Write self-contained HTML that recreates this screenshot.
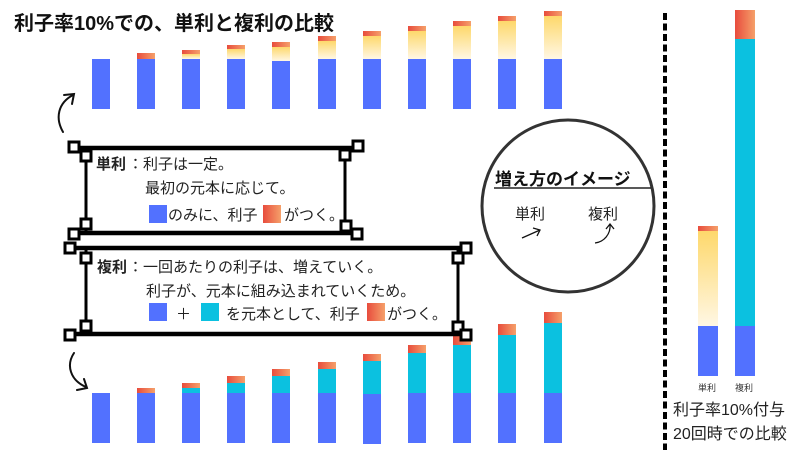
<!DOCTYPE html>
<html><head><meta charset="utf-8"><style>
html,body{margin:0;padding:0;background:#fff;}
svg{display:block;font-family:"Liberation Sans","Noto Sans CJK JP",sans-serif;}
</style></head><body>
<svg width="800" height="450" viewBox="0 0 800 450" xmlns="http://www.w3.org/2000/svg">
<defs>
<linearGradient id="rd" x1="0" y1="0" x2="1" y2="0"><stop offset="0" stop-color="#e84c3d"/><stop offset="1" stop-color="#f5a06a"/></linearGradient>
<linearGradient id="yl" x1="0" y1="0" x2="0" y2="1"><stop offset="0" stop-color="#fed86b"/><stop offset="1" stop-color="#fff7e4"/></linearGradient>
</defs>
<text x="14" y="30" font-size="20" font-weight="bold" fill="#111">利子率10%での、単利と複利の比較</text>

<!-- top bars -->
<g>
<rect x="92" y="59" width="18" height="50" fill="#5271ff"/>
<rect x="137" y="59" width="18" height="50" fill="#5271ff"/><rect x="137" y="53" width="18" height="6" fill="url(#rd)"/>
<rect x="182" y="59" width="18" height="50" fill="#5271ff"/><rect x="182" y="54" width="18" height="5" fill="url(#yl)"/><rect x="182" y="50" width="18" height="4" fill="url(#rd)"/>
<rect x="227" y="59" width="18" height="50" fill="#5271ff"/><rect x="227" y="49" width="18" height="10" fill="url(#yl)"/><rect x="227" y="45" width="18" height="4" fill="url(#rd)"/>
<rect x="272" y="61" width="18" height="48" fill="#5271ff"/><rect x="272" y="47" width="18" height="14" fill="url(#yl)"/><rect x="272" y="42" width="18" height="5" fill="url(#rd)"/>
<rect x="318" y="59" width="18" height="50" fill="#5271ff"/><rect x="318" y="41" width="18" height="18" fill="url(#yl)"/><rect x="318" y="36" width="18" height="5" fill="url(#rd)"/>
<rect x="363" y="59" width="18" height="50" fill="#5271ff"/><rect x="363" y="36" width="18" height="23" fill="url(#yl)"/><rect x="363" y="31" width="18" height="5" fill="url(#rd)"/>
<rect x="408" y="59" width="18" height="50" fill="#5271ff"/><rect x="408" y="31" width="18" height="28" fill="url(#yl)"/><rect x="408" y="26" width="18" height="5" fill="url(#rd)"/>
<rect x="453" y="59" width="18" height="50" fill="#5271ff"/><rect x="453" y="26" width="18" height="33" fill="url(#yl)"/><rect x="453" y="21" width="18" height="5" fill="url(#rd)"/>
<rect x="498" y="59" width="18" height="50" fill="#5271ff"/><rect x="498" y="21" width="18" height="38" fill="url(#yl)"/><rect x="498" y="16" width="18" height="5" fill="url(#rd)"/>
<rect x="544" y="59" width="18" height="50" fill="#5271ff"/><rect x="544" y="16" width="18" height="43" fill="url(#yl)"/><rect x="544" y="11" width="18" height="5" fill="url(#rd)"/>
</g>

<!-- bottom bars -->
<g>
<rect x="92" y="393" width="18" height="50" fill="#5271ff"/>
<rect x="137" y="393" width="18" height="50" fill="#5271ff"/><rect x="137" y="388" width="18" height="5" fill="url(#rd)"/>
<rect x="182" y="393" width="18" height="50" fill="#5271ff"/><rect x="182" y="388" width="18" height="5" fill="#0bc1e0"/><rect x="182" y="383" width="18" height="5" fill="url(#rd)"/>
<rect x="227" y="393" width="18" height="50" fill="#5271ff"/><rect x="227" y="383" width="18" height="10" fill="#0bc1e0"/><rect x="227" y="376" width="18" height="7" fill="url(#rd)"/>
<rect x="272" y="393" width="18" height="50" fill="#5271ff"/><rect x="272" y="376" width="18" height="17" fill="#0bc1e0"/><rect x="272" y="369" width="18" height="7" fill="url(#rd)"/>
<rect x="318" y="393" width="18" height="50" fill="#5271ff"/><rect x="318" y="369" width="18" height="24" fill="#0bc1e0"/><rect x="318" y="362" width="18" height="7" fill="url(#rd)"/>
<rect x="363" y="394" width="18" height="50" fill="#5271ff"/><rect x="363" y="361" width="18" height="33" fill="#0bc1e0"/><rect x="363" y="354" width="18" height="7" fill="url(#rd)"/>
<rect x="408" y="393" width="18" height="50" fill="#5271ff"/><rect x="408" y="353" width="18" height="40" fill="#0bc1e0"/><rect x="408" y="345" width="18" height="8" fill="url(#rd)"/>
<rect x="453" y="393" width="18" height="50" fill="#5271ff"/><rect x="453" y="345" width="18" height="48" fill="#0bc1e0"/><rect x="453" y="335" width="18" height="10" fill="url(#rd)"/>
<rect x="498" y="393" width="18" height="50" fill="#5271ff"/><rect x="498" y="335" width="18" height="58" fill="#0bc1e0"/><rect x="498" y="324" width="18" height="11" fill="url(#rd)"/>
<rect x="544" y="393" width="18" height="50" fill="#5271ff"/><rect x="544" y="323" width="18" height="70" fill="#0bc1e0"/><rect x="544" y="312" width="18" height="11" fill="url(#rd)"/>
</g>

<!-- curved arrows -->
<g fill="none" stroke="#111" stroke-width="2" stroke-linecap="round">
<path d="M63 132 C55 118,58 103,73 95"/><path d="M64 95 L74 94 L72 104"/>
<path d="M74 353 C66 365,70 380,86 387"/><path d="M77 390 L87 388 L84 379"/>
</g>

<!-- boxes -->
<g stroke="#000" fill="none">
<line x1="86" y1="148" x2="86" y2="233" stroke-width="3"/>
<line x1="345" y1="148" x2="345" y2="233" stroke-width="3"/>
<line x1="74" y1="148" x2="359" y2="148" stroke-width="4.5"/>
<line x1="74" y1="233" x2="359" y2="233" stroke-width="4.5"/>
<line x1="86" y1="248" x2="86" y2="334" stroke-width="3"/>
<line x1="458" y1="248" x2="458" y2="334" stroke-width="3"/>
<line x1="70" y1="248" x2="466" y2="248" stroke-width="4.5"/>
<line x1="70" y1="334" x2="466" y2="334" stroke-width="4.5"/>
</g>
<g stroke="#000" stroke-width="3" fill="#fff">
<rect x="69" y="142" width="10" height="10"/><rect x="81" y="151" width="10" height="10"/>
<rect x="81" y="219" width="10" height="10"/><rect x="69" y="229" width="10" height="10"/>
<rect x="340" y="150" width="10" height="10"/><rect x="353" y="141" width="10" height="10"/>
<rect x="341" y="221" width="10" height="10"/><rect x="352" y="229" width="10" height="10"/>
<rect x="65" y="243" width="10" height="10"/><rect x="81" y="253" width="10" height="10"/>
<rect x="81" y="321" width="10" height="10"/><rect x="65" y="330" width="10" height="10"/>
<rect x="453" y="253" width="10" height="10"/><rect x="461" y="243" width="10" height="10"/>
<rect x="453" y="322" width="10" height="10"/><rect x="461" y="330" width="10" height="10"/>
</g>

<g font-size="15" fill="#222">
<text x="96" y="169" font-weight="bold">単利</text><text x="128" y="169">：利子は一定。</text>
<text x="145" y="193">最初の元本に応じて。</text>
<rect x="149" y="205" width="18" height="18" fill="#5271ff"/>
<text x="168" y="220">のみに、利子</text>
<rect x="263" y="205" width="18" height="18" fill="url(#rd)"/>
<text x="284" y="220">がつく。</text>

<text x="97" y="272" font-weight="bold">複利</text><text x="128" y="272">：一回あたりの利子は、増えていく。</text>
<text x="146" y="296">利子が、元本に組み込まれていくため。</text>
<rect x="149" y="303" width="18" height="18" fill="#5271ff"/>
<text x="176" y="319">＋</text>
<rect x="201" y="303" width="18" height="18" fill="#0bc1e0"/>
<text x="226" y="319">を元本として、利子</text>
<rect x="367" y="303" width="18" height="18" fill="url(#rd)"/>
<text x="387" y="319">がつく。</text>
</g>

<!-- circle -->
<circle cx="568" cy="206" r="86" fill="none" stroke="#333" stroke-width="3"/>
<text x="495" y="185" font-size="17" font-weight="bold" fill="#111">増え方のイメージ</text>
<line x1="494" y1="188" x2="651" y2="188" stroke="#222" stroke-width="1.5"/>
<text x="515" y="219" font-size="15" fill="#222">単利</text>
<text x="588" y="219" font-size="15" fill="#222">複利</text>
<g fill="none" stroke="#111" stroke-width="1.3">
<path d="M522 238 L540 230"/><path d="M533 228 L540 230 L537 236"/>
<path d="M595 243 C604 242,611 234,610 224"/><path d="M606 229 L610 224 L614 229"/>
</g>

<!-- right side -->
<line x1="665" y1="13" x2="665" y2="450" stroke="#000" stroke-width="4" stroke-dasharray="7 3.5"/>
<rect x="698" y="326" width="20" height="50" fill="#5271ff"/>
<rect x="698" y="231" width="20" height="95" fill="url(#yl)"/>
<rect x="698" y="226" width="20" height="5" fill="url(#rd)"/>
<rect x="735" y="326" width="20" height="50" fill="#5271ff"/>
<rect x="735" y="39" width="20" height="287" fill="#0bc1e0"/>
<rect x="735" y="10" width="20" height="29" fill="url(#rd)"/>
<text x="698" y="391" font-size="9" fill="#333">単利</text>
<text x="735" y="391" font-size="9" fill="#333">複利</text>
<text x="673" y="415" font-size="16" fill="#222">利子率10%付与</text>
<text x="673" y="439" font-size="16" fill="#222">20回時での比較</text>
</svg>
</body></html>
